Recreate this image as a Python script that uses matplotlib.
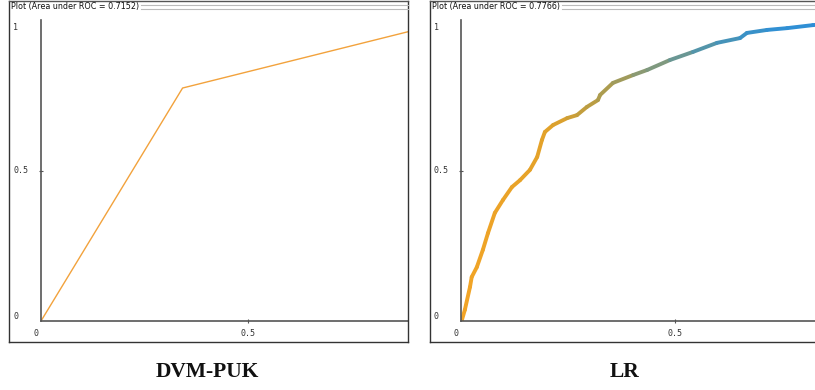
import numpy as np
import matplotlib
matplotlib.use('Agg')
import matplotlib.pyplot as plt
from matplotlib.collections import LineCollection
from matplotlib.colors import LinearSegmentedColormap
import matplotlib.transforms as mtransforms

# ROC curve of DVM-PUK (false positive rate, true positive rate)
puk_fpr = [0.0, 0.342, 1.0]
puk_tpr = [0.0, 0.774, 1.0]
puk_auc = 0.7152

# ROC curve of LR
lr_fpr = [0.0, 0.002, 0.009, 0.021, 0.025, 0.037, 0.051, 0.063, 0.079, 0.098,
          0.119, 0.138, 0.161, 0.178, 0.189, 0.196, 0.215, 0.248, 0.271, 0.294,
          0.320, 0.325, 0.355, 0.402, 0.435, 0.488, 0.542, 0.598, 0.652, 0.668,
          0.715, 0.762, 0.822, 0.900, 1.0]
lr_tpr = [0.0, 0.003, 0.037, 0.113, 0.146, 0.179, 0.236, 0.292, 0.359, 0.402,
          0.445, 0.468, 0.502, 0.545, 0.601, 0.628, 0.651, 0.674, 0.684, 0.711,
          0.734, 0.751, 0.791, 0.817, 0.834, 0.867, 0.894, 0.924, 0.940, 0.957,
          0.967, 0.973, 0.983, 0.992, 1.0]
lr_auc = 0.7766

names = ['DVM-PUK', 'LR']

W, H = 815, 390
fig = plt.figure(figsize=(W / 100, H / 100), dpi=100)
fig.patch.set_facecolor('white')


def fx(x):
    return x / W


def fy(y):
    return 1 - y / H


def panel(x0, x1, auc):
    # frame with titled border like the Weka window
    fig.add_artist(plt.Line2D([fx(x0), fx(x0)], [fy(1), fy(342)], color='#333333', lw=1))
    fig.add_artist(plt.Line2D([fx(x1), fx(x1)], [fy(1), fy(342)], color='#333333', lw=1))
    fig.add_artist(plt.Line2D([fx(x0), fx(x1)], [fy(342), fy(342)], color='#333333', lw=1))
    fig.add_artist(plt.Line2D([fx(x0), fx(x1)], [fy(1), fy(1)], color='#555555', lw=1))
    fig.text(fx(x0 + 2), fy(7), 'Plot (Area under ROC = %.4f)' % auc,
             fontsize=5.8, family='DejaVu Sans', va='center', ha='left', color='#111111')
    fig.add_artist(plt.Line2D([fx(x0 + 132), fx(x1)], [fy(5), fy(5)], color='#bbbbbb', lw=0.8))
    fig.add_artist(plt.Line2D([fx(x0 + 132), fx(x1)], [fy(9), fy(9)], color='#bbbbbb', lw=0.8))


def make_axes(frame_x, left, right, xscale):
    ax = fig.add_axes([fx(left), fy(321), fx(right - left), (321 - 20) / H])
    ax.set_xlim(0, (right - left) / xscale)
    ax.set_ylim(0, 1)
    for s in ['top', 'right']:
        ax.spines[s].set_visible(False)
    for s in ['left', 'bottom']:
        ax.spines[s].set_color('#555555')
        ax.spines[s].set_linewidth(1.2)
    ax.set_xticks([0.5])
    ax.set_yticks([0.5])
    ax.set_xticklabels([])
    ax.set_yticklabels([])
    ax.tick_params(length=3, width=0.8, color='#555555', direction='inout')
    ax.patch.set_alpha(0)
    tr_y = mtransforms.blended_transform_factory(ax.transAxes, ax.transData)
    tr_x = mtransforms.blended_transform_factory(ax.transData, ax.transAxes)
    lx = (frame_x + 4 - left) / (right - left)
    kw = dict(fontsize=6, family='DejaVu Sans Mono', color='#333333')
    ax.text(lx, 0.975, '1', transform=tr_y, ha='left', va='center', **kw)
    ax.text(lx, 0.5, '0.5', transform=tr_y, ha='left', va='center', **kw)
    ax.text(lx, 0.015, '0', transform=tr_y, ha='left', va='center', **kw)
    ax.text(-5 / xscale, -0.04, '0', transform=tr_x, ha='center', va='center', **kw)
    ax.text(0.5, -0.04, '0.5', transform=tr_x, ha='center', va='center', **kw)
    return ax


# left panel: DVM-PUK
panel(9, 408, puk_auc)
ax1 = make_axes(9, 41, 408, 414)
ax1.plot(puk_fpr, puk_tpr, color='#f2a23c', lw=1.0)

# right panel: LR
panel(430, 816, lr_auc)
ax2 = make_axes(430, 461, 815, 428)
cmap = LinearSegmentedColormap.from_list(
    'roc', [(0.0, '#f2a426'), (0.22, '#e2a22a'), (0.34, '#b49c46'), (0.45, '#8a9a74'),
            (0.62, '#4e94b0'), (0.8, '#3090d4'), (1.0, '#2a8ad8')])
pts = np.column_stack([lr_fpr, lr_tpr])
segs = np.stack([pts[:-1], pts[1:]], axis=1)
lc = LineCollection(segs, cmap=cmap, linewidths=2.8, capstyle='round', joinstyle='round')
lc.set_array(np.array(lr_fpr[:-1]))
lc.set_clim(0, 0.9)
ax2.add_collection(lc)

# captions under the panels
fig.text(fx(207), fy(372), names[0], ha='center', va='center', fontsize=15.5,
         family='Liberation Serif', fontweight='bold', color='#111111')
fig.text(fx(625), fy(372), names[1], ha='center', va='center', fontsize=15.5,
         family='Liberation Serif', fontweight='bold', color='#111111')

plt.savefig('out.png', dpi=100)
